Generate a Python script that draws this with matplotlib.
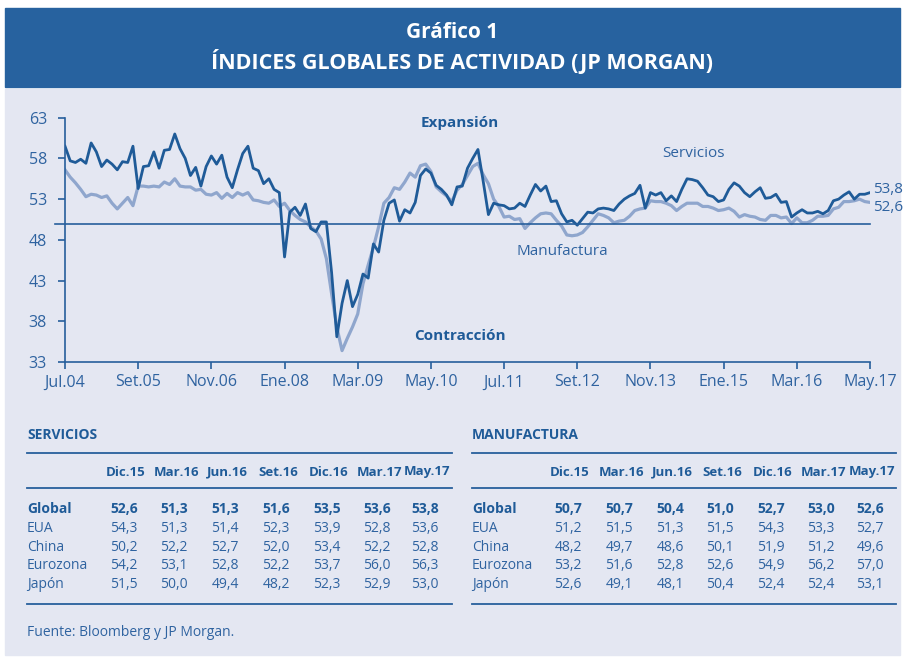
import matplotlib
matplotlib.use("Agg")
import matplotlib.pyplot as plt
from matplotlib.patches import Rectangle
from matplotlib.lines import Line2D
import numpy as np

plt.rcParams['font.family'] = ['Open Sans', 'DejaVu Sans']

# indices mensuales, jul.04 - may.17
servicios = [59.5, 57.7, 57.5, 57.9, 57.4, 59.9, 58.8, 57.0, 57.8, 57.3,
             56.6, 57.6, 57.5, 59.5, 54.3, 57.0, 57.1, 58.8, 56.8, 59.0,
             59.1, 61.0, 59.2, 58.0, 55.9, 56.9, 54.6, 57.0, 58.3, 57.3,
             58.4, 55.7, 54.4, 56.6, 58.6, 59.5, 56.8, 56.5, 54.9, 55.5,
             54.2, 53.8, 45.9, 51.4, 52.0, 51.0, 52.4, 49.4, 49.0, 50.2,
             50.2, 44.0, 36.1, 40.2, 43.0, 39.8, 41.3, 43.8, 43.3, 47.5,
             46.5, 50.4, 52.5, 52.9, 50.3, 51.7, 51.3, 52.6, 55.9, 56.7,
             56.2, 54.7, 54.2, 53.5, 52.3, 54.5, 54.6, 56.8, 58.0, 59.1,
             55.2, 51.1, 52.5, 52.3, 52.2, 51.8, 51.9, 52.5, 52.1, 53.5,
             54.8, 54.0, 54.6, 52.7, 52.8, 51.2, 50.2, 50.4, 49.8, 50.6,
             51.4, 51.3, 51.8, 51.9, 51.8, 51.6, 52.4, 53.0, 53.4, 53.7,
             54.7, 51.9, 53.8, 53.5, 53.8, 52.8, 53.4, 52.7, 54.2, 55.5,
             55.4, 55.2, 54.4, 53.5, 53.3, 52.7, 52.9, 54.2, 55.0, 54.6,
             53.8, 53.3, 53.9, 54.4, 53.1, 53.2, 53.6, 52.6, 52.7, 50.8,
             51.3, 51.7, 51.3, 51.3, 51.5, 51.2, 51.6, 52.8, 53.0, 53.5,
             53.9, 53.0, 53.6, 53.6, 53.8]
manufactura = [56.6, 55.7, 55.0, 54.2, 53.3, 53.6, 53.5, 53.2, 53.4, 52.5,
               51.8, 52.5, 53.2, 52.2, 54.6, 54.6, 54.5, 54.6, 54.5, 55.1,
               54.8, 55.5, 54.6, 54.5, 54.5, 54.1, 54.2, 53.6, 53.5, 53.8,
               53.1, 53.7, 53.2, 53.8, 53.5, 53.8, 52.9, 52.8, 52.6, 52.5,
               52.9, 52.1, 52.5, 51.6, 51.0, 50.5, 50.2, 49.6, 49.1, 48.1,
               45.7, 41.4, 37.3, 34.4, 35.9, 37.3, 38.9, 42.6, 44.9, 47.1,
               49.6, 52.5, 53.2, 54.4, 54.2, 55.1, 56.2, 55.7, 57.1, 57.3,
               56.4, 54.5, 53.9, 53.4, 52.7, 54.1, 54.8, 55.9, 57.0, 57.4,
               56.0, 54.9, 53.0, 52.1, 50.8, 50.9, 50.5, 50.6, 49.4, 50.1,
               50.7, 51.2, 51.3, 51.2, 50.4, 49.7, 48.6, 48.5, 48.6, 48.9,
               49.6, 50.4, 51.2, 51.0, 50.7, 50.1, 50.3, 50.4, 50.9, 51.6,
               51.8, 51.9, 52.8, 52.7, 52.7, 52.5, 52.2, 51.6, 52.1, 52.5,
               52.5, 52.5, 52.1, 52.1, 51.9, 51.6, 51.7, 51.9, 51.5,
               50.8, 51.1, 50.9, 50.8, 50.5, 50.4, 51.0, 51.0, 50.7, 50.8,
               50.0, 50.7, 50.1, 50.1, 50.4, 50.9, 50.9, 51.0, 51.8, 52.0,
               52.7, 52.7, 52.8, 53.0, 52.7, 52.6]
tick_labels = ["Jul.04", "Set.05", "Nov.06", "Ene.08", "Mar.09", "May.10",
               "Jul.11", "Set.12", "Nov.13", "Ene.15", "Mar.16", "May.17"]
y_ticks = [33, 38, 43, 48, 53, 58, 63]

periodos = ["Dic.15", "Mar.16", "Jun.16", "Set.16", "Dic.16", "Mar.17", "May.17"]
paises = ["Global", "EUA", "China", "Eurozona", "Japón"]
tabla_serv = [["52,6", "51,3", "51,3", "51,6", "53,5", "53,6", "53,8"],
              ["54,3", "51,3", "51,4", "52,3", "53,9", "52,8", "53,6"],
              ["50,2", "52,2", "52,7", "52,0", "53,4", "52,2", "52,8"],
              ["54,2", "53,1", "52,8", "52,2", "53,7", "56,0", "56,3"],
              ["51,5", "50,0", "49,4", "48,2", "52,3", "52,9", "53,0"]]
tabla_manu = [["50,7", "50,7", "50,4", "51,0", "52,7", "53,0", "52,6"],
              ["51,2", "51,5", "51,3", "51,5", "54,3", "53,3", "52,7"],
              ["48,2", "49,7", "48,6", "50,1", "51,9", "51,2", "49,6"],
              ["53,2", "51,6", "52,8", "52,6", "54,9", "56,2", "57,0"],
              ["52,6", "49,1", "48,1", "50,4", "52,4", "52,4", "53,1"]]

W, H = 905, 662
azul = "#275f9c"
azul_osc = "#1f5b98"
azul_claro = "#8fa6cd"
texto = "#2f63a0"
fondo = "#e4e7f2"

fig = plt.figure(figsize=(W / 100, H / 100), dpi=100)
fig.patch.set_facecolor("white")

def fx(px):
    return px / W

def fy(py):
    return 1 - py / H

# title band and panel
fig.patches.append(Rectangle((fx(5), fy(87)), fx(900) - fx(5), fy(8) - fy(87),
                             transform=fig.transFigure, color="#27629f", zorder=-10))
fig.patches.append(Rectangle((fx(5), fy(655)), fx(900) - fx(5), fy(89) - fy(655),
                             transform=fig.transFigure, color=fondo, zorder=-10))
fig.text(fx(452), fy(32), "Gráfico 1", color="white", fontsize=15, fontweight="bold",
         ha="center", va="center")
fig.text(fx(462), fy(62), "ÍNDICES GLOBALES DE ACTIVIDAD (JP MORGAN)", color="white",
         fontsize=15.5, fontweight="bold", ha="center", va="center")

# chart
ax = fig.add_axes([fx(65), fy(362), fx(870) - fx(65), fy(117.7) - fy(362)])
ax.set_zorder(5)
ax.set_facecolor("none")
x = np.arange(len(servicios))
ax.plot(x, manufactura, color=azul_claro, lw=2.3, solid_joinstyle="round")
ax.plot(x, servicios, color=azul_osc, lw=2.0, solid_joinstyle="round")
ax.axhline(50, xmin=-0.013, xmax=1.0, color=azul, lw=1.2, clip_on=False)
ax.set_xlim(0, len(servicios) - 1)
ax.set_ylim(33, 63)
ax.set_yticks(y_ticks)
ax.set_xticks(np.arange(0, len(servicios), 14))
ax.set_xticklabels(tick_labels)
for s in ["top", "right"]:
    ax.spines[s].set_visible(False)
for s in ["left", "bottom"]:
    ax.spines[s].set_color(azul)
    ax.spines[s].set_linewidth(1.2)
ax.tick_params(axis="both", colors=azul, labelcolor=texto, labelsize=11.5, length=5, width=1.2)
ax.tick_params(axis="y", pad=8)
ax.tick_params(axis="x", pad=4)

ax.text(75.5, 62.3, "Expansión", color=azul_osc, fontsize=11, fontweight="bold", ha="center", va="center")
ax.text(75.5, 36.2, "Contracción", color=azul_osc, fontsize=11, fontweight="bold", ha="center", va="center")
ax.text(120.2, 58.6, "Servicios", color=texto, fontsize=11, ha="center", va="center")
ax.text(95.2, 46.6, "Manufactura", color=texto, fontsize=11, ha="center", va="center")
ax.text(154.5, servicios[-1] + 0.35, "53,8", color=texto, fontsize=11, ha="left", va="center", clip_on=False)
ax.text(154.5, manufactura[-1] - 0.6, "52,6", color=texto, fontsize=11, ha="left", va="center", clip_on=False)

# tables
def hline(x0, x1, py):
    fig.lines.append(Line2D([fx(x0), fx(x1)], [fy(py), fy(py)], transform=fig.transFigure,
                            color=azul, lw=1.3))

def tabla(x0, x1, titulo, cols, datos):
    fig.text(fx(x0), fy(439), titulo, color=azul_osc, fontsize=10, fontweight="bold", va="baseline")
    hline(x0, x1, 453)
    hline(x0, x1, 488)
    hline(x0, x1, 604)
    for cx, p in zip(cols, periodos):
        fig.text(fx(cx), fy(475.5), p, color=azul_osc, fontsize=9.5, fontweight="bold",
                 ha="center", va="baseline")
    for i, (pais, fila) in enumerate(zip(paises, datos)):
        yy = 513 + i * 18.8
        peso = "bold" if i == 0 else "normal"
        col = azul_osc if i == 0 else texto
        fig.text(fx(x0), fy(yy), pais, color=col, fontsize=10, fontweight=peso, va="baseline")
        for cx, v in zip(cols, fila):
            fig.text(fx(cx - 2), fy(yy), v, color=col, fontsize=10, fontweight=peso,
                     ha="center", va="baseline")

tabla(27, 452, "SERVICIOS", [126, 176, 227, 278, 329, 379, 427], tabla_serv)
tabla(472, 896, "MANUFACTURA", [570, 621, 672, 722, 773, 823, 872], tabla_manu)

fig.text(fx(27), fy(632), "Fuente: Bloomberg y JP Morgan.", color=texto, fontsize=10, va="center")

fig.savefig("out.png", dpi=100, facecolor=fig.get_facecolor())
